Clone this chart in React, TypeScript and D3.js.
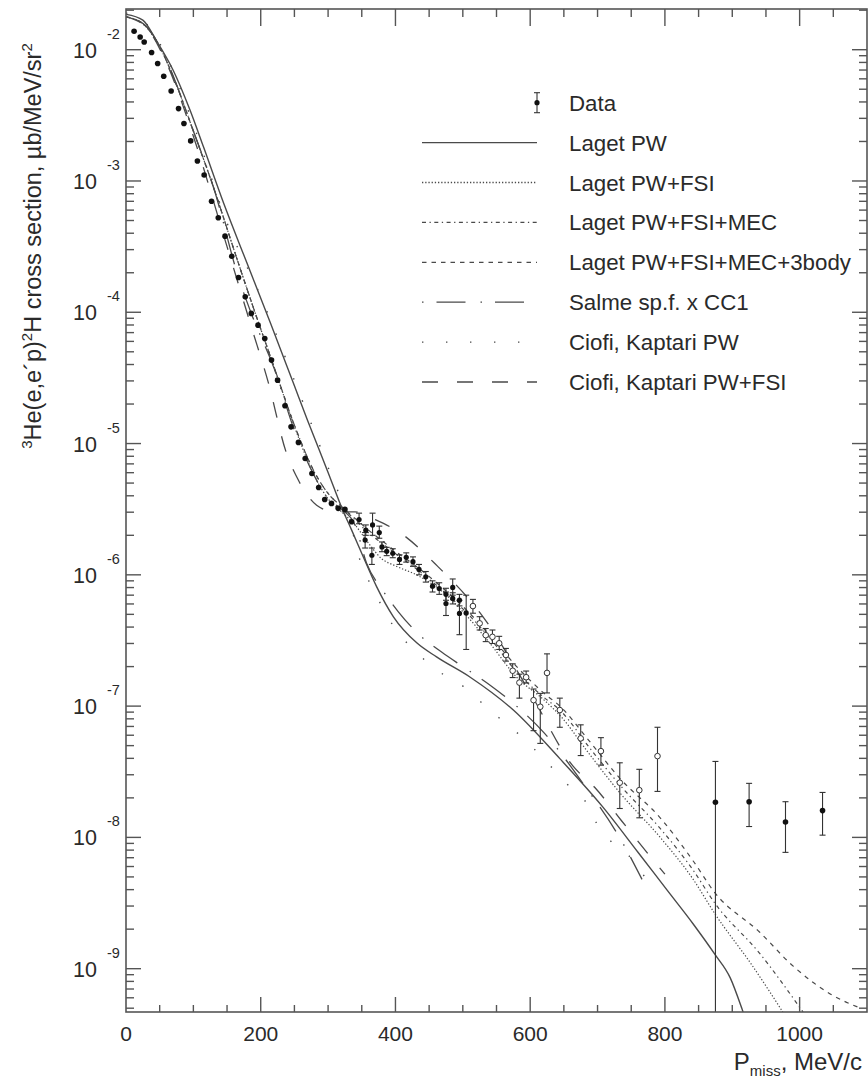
import React from 'react';
import * as d3 from 'd3';

// ---------- Data ----------
// Measured points, small uncertainties (filled circles)
const pEarly = [12, 21, 27, 38, 47, 56, 67, 78, 86, 96, 106, 116, 127, 137, 147, 157, 167, 177, 186, 196, 206, 216, 225, 236, 245, 256, 266, 276, 286, 295, 305, 315, 325, 335];
const sEarly = [1.384e-2, 1.25e-2, 1.146e-2, 9.53e-3, 7.85e-3, 6.28e-3, 4.85e-3, 3.56e-3, 2.74e-3, 2.02e-3, 1.42e-3, 1.11e-3, 7.01e-4, 5.25e-4, 3.8e-4, 2.67e-4, 1.84e-4, 1.31e-4, 9.8e-5, 7.98e-5, 6.31e-5, 4.32e-5, 3.04e-5, 1.94e-5, 1.34e-5, 1.02e-5, 7.69e-6, 5.92e-6, 4.63e-6, 3.75e-6, 3.5e-6, 3.21e-6, 3.15e-6, 2.54e-6];

// Measured points with error bars (filled)
const pBump = [346, 356, 366, 376, 355, 365, 380, 387, 396, 406, 416, 426, 435, 445, 455, 465, 475, 475, 485, 485, 495, 495, 505];
const sBump = [2.64e-6, 2.19e-6, 2.4e-6, 2.1e-6, 1.84e-6, 1.41e-6, 1.63e-6, 1.51e-6, 1.46e-6, 1.31e-6, 1.36e-6, 1.26e-6, 1.1e-6, 9.66e-7, 8.2e-7, 7.87e-7, 7.1e-7, 6.05e-7, 8.02e-7, 6.61e-7, 6.41e-7, 5.08e-7, 5.13e-7];
const loBump = [2.45e-6, 2.0e-6, 2.0e-6, 1.9e-6, 1.6e-6, 1.2e-6, 1.5e-6, 1.4e-6, 1.35e-6, 1.2e-6, 1.25e-6, 1.16e-6, 1.0e-6, 8.8e-7, 7.4e-7, 7.1e-7, 6.4e-7, 4.9e-7, 7.0e-7, 6.0e-7, 5.8e-7, 3.5e-7, 2.7e-7];
const hiBump = [2.95e-6, 2.4e-6, 2.95e-6, 2.35e-6, 2.1e-6, 1.6e-6, 1.78e-6, 1.62e-6, 1.58e-6, 1.42e-6, 1.47e-6, 1.37e-6, 1.2e-6, 1.06e-6, 9.0e-7, 8.7e-7, 7.9e-7, 7.4e-7, 9.3e-7, 7.3e-7, 7.1e-7, 6.4e-7, 7.0e-7];

// Measured points (open circles)
const pOpen = [515, 525, 534, 544, 554, 564, 574, 584, 594, 605, 615, 625, 644, 675, 705, 733, 762, 789];
const sOpen = [5.78e-7, 4.27e-7, 3.47e-7, 3.37e-7, 3.01e-7, 2.45e-7, 1.86e-7, 1.51e-7, 1.66e-7, 1.11e-7, 9.89e-8, 1.79e-7, 9.33e-8, 5.68e-8, 4.54e-8, 2.61e-8, 2.29e-8, 4.16e-8];
const loOpen = [5.1e-7, 3.8e-7, 3.1e-7, 3.0e-7, 2.7e-7, 2.2e-7, 1.65e-7, 1.15e-7, 1.5e-7, 6.5e-8, 5.2e-8, 1.26e-7, 6.9e-8, 4.2e-8, 3.55e-8, 1.66e-8, 1.41e-8, 2.24e-8];
const hiOpen = [6.5e-7, 4.8e-7, 3.9e-7, 3.8e-7, 3.4e-7, 2.75e-7, 2.1e-7, 1.75e-7, 1.85e-7, 1.35e-7, 1.25e-7, 2.5e-7, 1.15e-7, 7.2e-8, 5.75e-8, 3.7e-8, 3.3e-8, 6.9e-8];

// High missing-momentum points (filled)
const pHigh = [875, 925, 979, 1034];
const sHigh = [1.85e-8, 1.87e-8, 1.31e-8, 1.6e-8];
const loHigh = [1e-10, 1.21e-8, 7.69e-9, 1.04e-8];
const hiHigh = [3.79e-8, 2.58e-8, 1.87e-8, 2.2e-8];

// Theory curves
const pLagetPW = [0, 25, 45, 70, 95, 115, 145, 180, 215, 250, 270, 300, 322, 335, 352, 372, 397, 432, 461, 511, 575, 644, 708, 760, 803, 842, 874, 897, 914, 930];
const sLagetPW = [1.86e-2, 1.68e-2, 1.175e-2, 6.98e-3, 3.47e-3, 1.82e-3, 6.76e-4, 2.34e-4, 8.13e-5, 2.75e-5, 1.48e-5, 6.03e-6, 3.09e-6, 2.19e-6, 1.38e-6, 8.13e-7, 4.79e-7, 3.02e-7, 2.37e-7, 1.66e-7, 9.33e-8, 3.98e-8, 1.7e-8, 7.71e-9, 3.98e-9, 2.19e-9, 1.29e-9, 8.51e-10, 5.01e-10, 2.82e-10];

const pLagetFSI = [0, 25, 50, 75, 100, 130, 160, 190, 220, 250, 280, 300, 320, 340, 360, 380, 400, 435, 470, 500, 540, 580, 620, 644, 690, 733, 793, 842, 874, 930, 975];
const sLagetFSI = [1.78e-2, 1.58e-2, 1.05e-2, 5.37e-3, 2.4e-3, 8.91e-4, 3.02e-4, 1.05e-4, 3.8e-5, 1.35e-5, 5.62e-6, 3.8e-6, 3.02e-6, 2.4e-6, 1.74e-6, 1.32e-6, 1.17e-6, 9.77e-7, 7.41e-7, 5.25e-7, 3.02e-7, 1.66e-7, 1.12e-7, 8.51e-8, 4.17e-8, 2.19e-8, 1.0e-8, 4.79e-9, 2.63e-9, 1.05e-9, 4.68e-10];

const pLagetMEC = [0, 25, 50, 75, 100, 130, 160, 190, 220, 250, 280, 300, 320, 340, 360, 380, 400, 435, 470, 500, 540, 580, 620, 644, 690, 733, 793, 842, 874, 940, 1005];
const sLagetMEC = [1.78e-2, 1.58e-2, 1.05e-2, 5.37e-3, 2.4e-3, 8.91e-4, 3.02e-4, 1.05e-4, 3.8e-5, 1.38e-5, 6.03e-6, 4.17e-6, 3.31e-6, 2.63e-6, 2.09e-6, 1.74e-6, 1.45e-6, 1.07e-6, 7.59e-7, 5.5e-7, 3.31e-7, 1.82e-7, 1.17e-7, 9.33e-8, 4.68e-8, 2.51e-8, 1.17e-8, 5.62e-9, 3.16e-9, 1.32e-9, 4.68e-10];

const pLaget3b = [0, 25, 50, 75, 100, 130, 160, 190, 220, 250, 280, 300, 320, 340, 360, 380, 400, 435, 470, 500, 540, 580, 620, 644, 690, 733, 793, 842, 874, 940, 990, 1048, 1090];
const sLaget3b = [1.78e-2, 1.58e-2, 1.05e-2, 5.37e-3, 2.4e-3, 8.91e-4, 3.02e-4, 1.05e-4, 3.8e-5, 1.38e-5, 6.03e-6, 4.17e-6, 3.31e-6, 2.69e-6, 2.19e-6, 1.82e-6, 1.51e-6, 1.12e-6, 7.94e-7, 5.75e-7, 3.47e-7, 2.0e-7, 1.26e-7, 1.0e-7, 5.25e-8, 2.82e-8, 1.41e-8, 6.61e-9, 3.8e-9, 1.91e-9, 1.05e-9, 6.31e-10, 5.01e-10];

const pSalme = [0, 30, 60, 100, 130, 167, 186, 220, 250, 280, 300, 320, 340, 357, 380, 404, 434, 469, 500, 540, 573, 620, 680, 736, 766];
const sSalme = [1.78e-2, 1.51e-2, 8.32e-3, 2.4e-3, 8.91e-4, 1.84e-4, 9.8e-5, 3.72e-5, 1.26e-5, 5.62e-6, 3.8e-6, 3.16e-6, 2.4e-6, 1.23e-6, 7.76e-7, 5.25e-7, 3.55e-7, 2.57e-7, 2.0e-7, 1.45e-7, 1.07e-7, 6.31e-8, 2.51e-8, 9.33e-9, 4.79e-9];

const pCiofiPW = [0, 30, 60, 100, 150, 200, 250, 300, 335, 350, 365, 380, 397, 419, 446, 474, 501, 529, 554, 582, 620, 654, 681, 696, 718, 743, 770];
const sCiofiPW = [1.9e-2, 1.58e-2, 8.91e-3, 2.69e-3, 4.79e-4, 1.32e-4, 3.02e-5, 6.61e-6, 2.24e-6, 1.17e-6, 8.13e-7, 5.75e-7, 4.07e-7, 2.95e-7, 2.19e-7, 1.7e-7, 1.41e-7, 1.05e-7, 8.13e-8, 6.17e-8, 3.98e-8, 2.57e-8, 1.91e-8, 1.35e-8, 9.55e-9, 7.59e-9, 5.01e-9];

const pCiofiFSI = [0, 30, 60, 100, 150, 186, 211, 238, 256, 283, 310, 340, 370, 407, 462, 530, 600, 664, 696, 735, 787, 800];
const sCiofiFSI = [1.78e-2, 1.48e-2, 7.94e-3, 2.19e-3, 3.16e-4, 7.76e-5, 2.95e-5, 8.51e-6, 5.25e-6, 3.39e-6, 3.02e-6, 3.02e-6, 2.63e-6, 2.09e-6, 1.17e-6, 4.79e-7, 1.26e-7, 3.47e-8, 2.4e-8, 1.35e-8, 6.31e-9, 5.25e-9];

// Axis ticks
const xTickLabels = [0, 200, 400, 600, 800, 1000];
const yDecades = [-9, -8, -7, -6, -5, -4, -3, -2];

const legendItems = [
  { label: 'Laget PW', dash: '' },
  { label: 'Laget PW+FSI', dash: '1.3,1.9' },
  { label: 'Laget PW+FSI+MEC', dash: '4,3.5,1.3,3.5' },
  { label: 'Laget PW+FSI+MEC+3body', dash: '4.5,5' },
  { label: 'Salme sp.f. x CC1', dash: '1.5,13,29,15' },
  { label: 'Ciofi, Kaptari PW', dash: '1.4,22.6' },
  { label: 'Ciofi, Kaptari PW+FSI', dash: '16,19' },
];

const FONT = '"Liberation Sans", Arial, Helvetica, sans-serif';
const INK = '#2a2a2a';
const LINE = '#4a4a4a';

export default function App() {
  const W = 868, H = 1079;
  const L = 126, R = 867, T = 9, B = 1012;
  const x = d3.scaleLinear().domain([0, 1100]).range([L, R]);
  const y = d3.scaleLog().domain([4.677e-10, 2.042e-2]).range([B, T]);

  const mk = (ps: number[], ss: number[]) => ps.map((p, i) => [p, ss[i]] as [number, number]);
  const line = d3.line<[number, number]>()
    .x(d => x(d[0]))
    .y(d => y(d[1]))
    .curve(d3.curveMonotoneX);

  const curves = [
    { pts: mk(pLagetPW, sLagetPW), dash: legendItems[0].dash, w: 1.4 },
    { pts: mk(pLagetFSI, sLagetFSI), dash: legendItems[1].dash, w: 1.2 },
    { pts: mk(pLagetMEC, sLagetMEC), dash: legendItems[2].dash, w: 1.2 },
    { pts: mk(pLaget3b, sLaget3b), dash: legendItems[3].dash, w: 1.2 },
    { pts: mk(pSalme, sSalme), dash: legendItems[4].dash, w: 1.3 },
    { pts: mk(pCiofiPW, sCiofiPW), dash: legendItems[5].dash, w: 1.4 },
    { pts: mk(pCiofiFSI, sCiofiFSI), dash: legendItems[6].dash, w: 1.3 },
  ];

  // ticks
  const xMinor = d3.range(50, 1100, 50);
  const yTicks: { v: number; major: boolean }[] = [];
  for (let e = -10; e <= -1; e++) {
    for (let m = 1; m <= 9; m++) {
      const v = m * Math.pow(10, e);
      if (v > 4.677e-10 && v < 2.042e-2) yTicks.push({ v, major: m === 1 });
    }
  }

  const errBar = (p: number, lo: number, hi: number, key: string) => {
    const cx = x(p);
    const y1 = y(hi), y2 = y(lo);
    return (
      <g key={key} stroke="#333" strokeWidth={1.1}>
        <line x1={cx} x2={cx} y1={y1} y2={y2} />
        <line x1={cx - 3} x2={cx + 3} y1={y1} y2={y1} />
        <line x1={cx - 3} x2={cx + 3} y1={y2} y2={y2} />
      </g>
    );
  };

  const legX0 = 422, legX1 = 537, legText = 569, legY0 = 102.7, legDy = 39.9;
  const legFs = 22.3;

  return (
    <svg width={W} height={H} style={{ position: 'absolute', left: 0, top: 0, background: '#fff' }} fontFamily={FONT}>
      <defs>
        <clipPath id="plot"><rect x={L} y={T} width={R - L} height={B - T} /></clipPath>
      </defs>
      <rect x={0} y={0} width={W} height={H} fill="#fff" />

      {/* curves */}
      <g clipPath="url(#plot)" fill="none" stroke={LINE}>
        {curves.map((c, i) => (
          <path key={i} d={line(c.pts) || ''} strokeDasharray={c.dash || undefined} strokeWidth={c.w} />
        ))}
      </g>

      {/* data */}
      <g clipPath="url(#plot)">
        {pBump.map((p, i) => errBar(p, loBump[i], hiBump[i], 'b' + i))}
        {pOpen.map((p, i) => errBar(p, loOpen[i], hiOpen[i], 'o' + i))}
        {pHigh.map((p, i) => errBar(p, loHigh[i], hiHigh[i], 'h' + i))}
        {pEarly.map((p, i) => <circle key={'e' + i} cx={x(p)} cy={y(sEarly[i])} r={2.8} fill="#111" />)}
        {pBump.map((p, i) => <circle key={'bc' + i} cx={x(p)} cy={y(sBump[i])} r={2.6} fill="#111" />)}
        {pOpen.map((p, i) => <circle key={'oc' + i} cx={x(p)} cy={y(sOpen[i])} r={2.8} fill="#fff" stroke="#333" strokeWidth={1} />)}
        {pHigh.map((p, i) => <circle key={'hc' + i} cx={x(p)} cy={y(sHigh[i])} r={2.8} fill="#111" />)}
      </g>

      {/* frame */}
      <rect x={L} y={T} width={R - L} height={B - T} fill="none" stroke="#555" strokeWidth={1.6} />

      {/* ticks */}
      <g stroke="#555" strokeWidth={1.4}>
        {xMinor.map(v => {
          const major = v % 200 === 0;
          const len = major ? 15 : 7;
          return (
            <g key={'xt' + v}>
              <line x1={x(v)} x2={x(v)} y1={B} y2={B - len} />
              <line x1={x(v)} x2={x(v)} y1={T} y2={T + len + (major ? 2 : 1)} />
            </g>
          );
        })}
        {yTicks.map((t, i) => {
          const len = t.major ? 15 : 8;
          const yy = y(t.v);
          return (
            <g key={'yt' + i}>
              <line x1={L} x2={L + len} y1={yy} y2={yy} />
              <line x1={R} x2={R - len} y1={yy} y2={yy} />
            </g>
          );
        })}
      </g>

      {/* x tick labels */}
      <g fill={INK} fontSize={21} textAnchor="middle">
        {xTickLabels.map(v => (
          <text key={'xl' + v} x={x(v)} y={1041}>{v}</text>
        ))}
      </g>
      {/* y tick labels */}
      <g fill={INK}>
        {yDecades.map(e => {
          const yy = y(Math.pow(10, e));
          return (
            <g key={'yl' + e}>
              <text x={97} y={yy + 8} fontSize={21.5} textAnchor="end">10</text>
              <text x={107} y={yy - 11} fontSize={14.5} textAnchor="start">{e}</text>
            </g>
          );
        })}
      </g>

      {/* axis titles */}
      <text x={862} y={1070} fontSize={24} fill={INK} textAnchor="end">
        P<tspan fontSize={15} dy={6}>miss</tspan><tspan dy={-6}>, MeV/c</tspan>
      </text>
      <text transform="translate(41,246) rotate(-90)" fontSize={23.5} fill={INK} textAnchor="middle">
        <tspan fontSize={15} dy={-9}>3</tspan><tspan dy={9}>He(e,e´p)</tspan><tspan fontSize={15} dy={-9}>2</tspan><tspan dy={9}>H cross section, µb/MeV/sr</tspan><tspan fontSize={15} dy={-9}>2</tspan>
      </text>

      {/* legend */}
      <g>
        <g stroke="#333" strokeWidth={1.1}>
          <line x1={legX1} x2={legX1} y1={legY0 - 10} y2={legY0 + 10} />
          <line x1={legX1 - 3} x2={legX1 + 3} y1={legY0 - 10} y2={legY0 - 10} />
          <line x1={legX1 - 3} x2={legX1 + 3} y1={legY0 + 10} y2={legY0 + 10} />
        </g>
        <circle cx={legX1} cy={legY0} r={2.6} fill="#111" />
        <text x={legText} y={legY0 + 8} fontSize={legFs} fill={INK}>Data</text>
        {legendItems.map((it, i) => {
          const yy = legY0 + legDy * (i + 1);
          return (
            <g key={'lg' + i}>
              <line x1={legX0} x2={legX1} y1={yy} y2={yy} stroke={LINE} strokeWidth={i === 0 ? 1.4 : 1.3} strokeDasharray={it.dash || undefined} />
              <text x={legText} y={yy + 8} fontSize={legFs} fill={INK}>{it.label}</text>
            </g>
          );
        })}
      </g>
    </svg>
  );
}
